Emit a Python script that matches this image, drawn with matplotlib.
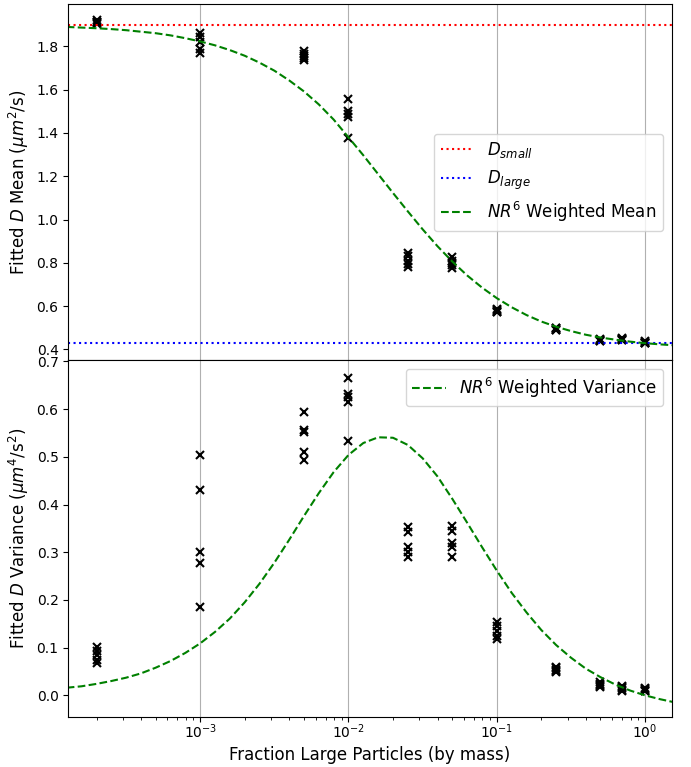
import matplotlib
matplotlib.use("Agg")
import matplotlib.pyplot as plt
import numpy as np

# fractions of large particles (by mass) that were measured
fractions = [2e-4, 1e-3, 5e-3, 1e-2, 2.5e-2, 5e-2, 0.1, 0.25, 0.5, 0.7, 1.0]

# fitted D mean, five repeats per fraction
mean_fits = [
    [1.920, 1.915, 1.910, 1.905, 1.915],
    [1.860, 1.845, 1.820, 1.790, 1.770],
    [1.780, 1.765, 1.755, 1.745, 1.735],
    [1.555, 1.500, 1.490, 1.475, 1.375],
    [0.845, 0.830, 0.810, 0.795, 0.780],
    [0.825, 0.810, 0.800, 0.790, 0.775],
    [0.585, 0.580, 0.578, 0.575, 0.572],
    [0.500, 0.497, 0.495, 0.490, 0.488],
    [0.450, 0.445, 0.442, 0.440, 0.438],
    [0.452, 0.450, 0.447, 0.444, 0.442],
    [0.437, 0.434, 0.432, 0.430, 0.428],
]

# fitted D variance, five repeats per fraction
var_fits = [
    [0.102, 0.092, 0.085, 0.075, 0.067],
    [0.504, 0.430, 0.300, 0.278, 0.186],
    [0.593, 0.557, 0.553, 0.510, 0.494],
    [0.665, 0.632, 0.625, 0.615, 0.533],
    [0.352, 0.342, 0.311, 0.301, 0.291],
    [0.355, 0.345, 0.320, 0.312, 0.289],
    [0.153, 0.145, 0.135, 0.125, 0.119],
    [0.060, 0.057, 0.054, 0.052, 0.050],
    [0.027, 0.024, 0.021, 0.019, 0.017],
    [0.020, 0.017, 0.015, 0.012, 0.010],
    [0.016, 0.014, 0.012, 0.010, 0.009],
]

D_small = 1.90
D_large = 0.429

curve_log_frac = [-3.9, -3.8, -3.7, -3.6, -3.5, -3.4, -3.3, -3.2, -3.1, -3.0,
                  -2.9, -2.8, -2.7, -2.6, -2.5, -2.4, -2.3, -2.2, -2.1, -2.0,
                  -1.9, -1.8, -1.7, -1.6, -1.5, -1.4, -1.3, -1.2, -1.1, -1.0,
                  -0.9, -0.8, -0.7, -0.6, -0.5, -0.4, -0.3, -0.2, -0.1, 0.0,
                  0.1, 0.2]
curve_mean = [1.890, 1.887, 1.884, 1.880, 1.875, 1.868, 1.861, 1.851, 1.838, 1.823,
              1.805, 1.783, 1.757, 1.725, 1.688, 1.643, 1.592, 1.532, 1.462, 1.380,
              1.297, 1.210, 1.123, 1.038, 0.955, 0.877, 0.806, 0.742, 0.686, 0.637,
              0.595, 0.559, 0.529, 0.505, 0.485, 0.468, 0.455, 0.445, 0.436, 0.429,
              0.4235, 0.419]
curve_var = [0.016, 0.019, 0.024, 0.030, 0.037, 0.046, 0.058, 0.072, 0.089, 0.109,
             0.133, 0.161, 0.195, 0.234, 0.278, 0.326, 0.376, 0.424, 0.468, 0.504,
             0.529, 0.541, 0.540, 0.525, 0.497, 0.459, 0.412, 0.362, 0.311, 0.2615,
             0.215, 0.174, 0.137, 0.1055, 0.079, 0.056, 0.038, 0.0225, 0.010, 0.0,
             -0.008, -0.0147]

curve_frac = 10.0 ** np.array(curve_log_frac)

fig = plt.figure(figsize=(6.91, 7.67), dpi=100)
ax_mean = fig.add_axes([0.0988, 0.530, 0.8732, 0.4648])
ax_var = fig.add_axes([0.0988, 0.0648, 0.8732, 0.4652], sharex=ax_mean)

# top: mean
for frac, vals in zip(fractions, mean_fits):
    ax_mean.plot([frac] * len(vals), vals, 'kx', markersize=6, markeredgewidth=1.5)
ax_mean.axhline(D_small, color='r', linestyle=':', label='$D_{small}$')
ax_mean.axhline(D_large, color='b', linestyle=':', label='$D_{large}$')
ax_mean.plot(curve_frac, curve_mean, 'g--', label='$NR^6$ Weighted Mean')

ax_mean.set_xscale('log')
ax_mean.set_xlim(1.29e-4, 1.51)
ax_mean.set_ylim(0.349, 1.996)
ax_mean.set_yticks(np.arange(0.4, 1.81, 0.2))
ax_mean.set_ylabel('Fitted $D$ Mean ($\\mu m^2$/s)', fontsize=12)
ax_mean.grid(True, axis='x', which='major')
ax_mean.tick_params(axis='x', which='both', bottom=False, labelbottom=False)
ax_mean.legend(loc='center right', fontsize=12)

# bottom: variance
for frac, vals in zip(fractions, var_fits):
    ax_var.plot([frac] * len(vals), vals, 'kx', markersize=6, markeredgewidth=1.5)
ax_var.plot(curve_frac, curve_var, 'g--', label='$NR^6$ Weighted Variance')

ax_var.set_ylim(-0.046, 0.702)
ax_var.set_yticks(np.arange(0.0, 0.71, 0.1))
ax_var.set_ylabel('Fitted $D$ Variance ($\\mu m^4$/s$^2$)', fontsize=12)
ax_var.set_xlabel('Fraction Large Particles (by mass)', fontsize=12)
ax_var.tick_params(axis='x', which='major', pad=0)
ax_var.grid(True, axis='x', which='major')
ax_var.legend(loc='upper right', fontsize=12)

fig.savefig('out.png', dpi=100)
